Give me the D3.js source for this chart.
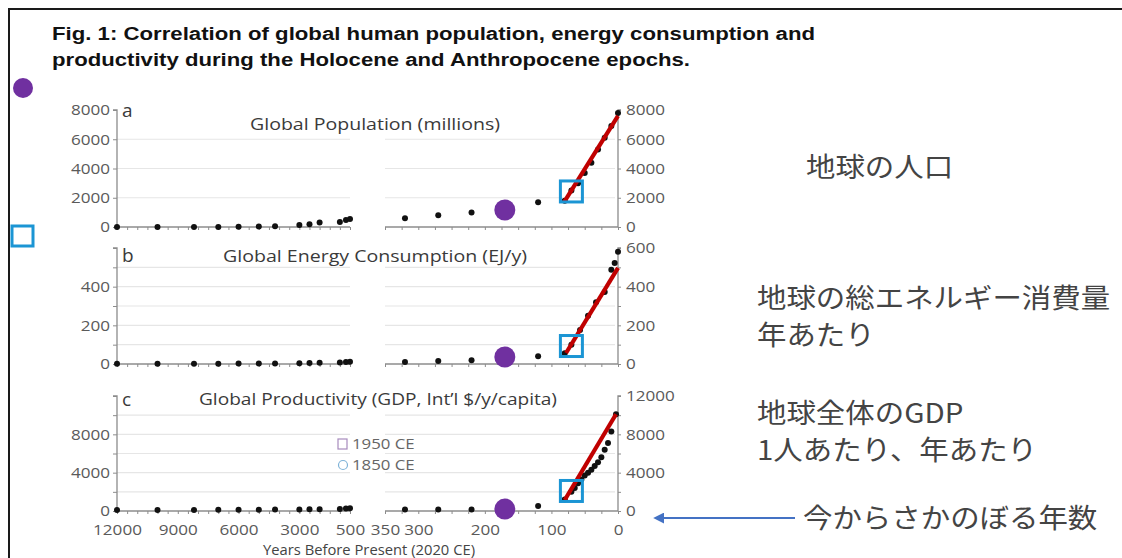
<!DOCTYPE html>
<html>
<head>
<meta charset="utf-8">
<script src="https://cdn.jsdelivr.net/npm/d3@7"></script>
<style>
  html, body { margin: 0; padding: 0; background: #fff; }
  svg { display: block; }
</style>
</head>
<body>
<svg id="fig" width="1122" height="558"></svg>
<script>
// ---- Data -------------------------------------------------------------
// Holocene (years before present, left half of each panel)
const earlyYears   = [12000, 10000, 8200, 7000, 6000, 5000, 4200, 3000, 2500, 2000, 1000, 700, 500];
const earlyPop     = [4, 5, 5, 7, 14, 27, 50, 140, 190, 300, 340, 480, 550];
const earlyEnergy  = [1, 1, 1, 1, 2, 2, 3, 4, 5, 6, 8, 10, 12];
const earlyGdp     = [100, 100, 110, 120, 130, 140, 150, 160, 170, 180, 200, 250, 300];

// Industrial era (years before present, right half of each panel)
const lateYears    = [320, 270, 220, 170, 120, 80];
const latePop      = [600, 800, 1000, 1260, 1700, 1800];
const lateEnergy   = [10, 15, 20, 30, 40, 55];
const lateGdp      = [150, 150, 150, 200, 520, 1200];

// Anthropocene (dense recent series)
const popModernYears    = [70, 60, 50, 40, 30, 20, 10, 0];
const popModern         = [2500, 3000, 3700, 4400, 5300, 6100, 6900, 7800];
const energyModernYears = [70, 57, 45, 33, 20, 10, 5, 0];
const energyModern      = [100, 176, 250, 320, 373, 487, 523, 580];
const gdpModernYears    = [70, 65, 60, 55, 50, 45, 40, 35, 30, 25, 20, 15, 10, 3];
const gdpModern         = [2000, 2400, 2900, 3300, 3700, 4000, 4300, 4700, 5100, 5600, 6400, 7100, 8300, 10100];

// Linear trend since 1950 (start/end years BP and values)
const popTrend    = [[81, 1700], [0, 7600]];
const energyTrend = [[78, 57], [0, 497]];
const gdpTrend    = [[80, 1150], [3, 10100]];

// Highlighted epochs: 1850 CE (170 BP) and 1950 CE (70 BP)
const markYear1850 = 170;
const markYear1950 = 70;
const mark1850 = [1160, 36, 200];
const mark1950 = [2430, 93, 2090];

// Axis ticks
const leftXTicks  = [12000, 9000, 6000, 3000, 500];
const rightXTicks = [350, 300, 200, 100, 0];
const popTicks    = [0, 2000, 4000, 6000, 8000];
const energyTicksLeft  = [0, 200, 400];
const energyTicksRight = [0, 200, 400, 600];
const gdpTicksLeft  = [0, 4000, 8000];
const gdpTicksRight = [0, 4000, 8000, 12000];

const panelTitles = ["Global Population (millions)", "Global Energy Consumption (EJ/y)", "Global Productivity (GDP, Int\u2019l $/y/capita)"];
const panelLetters = ["a", "b", "c"];
const legendLabels = ["1950 CE", "1850 CE"];
const figTitle = [
  "Fig. 1: Correlation of global human population, energy consumption and",
  "productivity during the Holocene and Anthropocene epochs."
];
const jpNotes = [
  ["地球の人口"],
  ["地球の総エネルギー消費量", "年あたり"],
  ["地球全体のGDP", "1人あたり、年あたり"]
];
const jpAxisNote = "今からさかのぼる年数";

// ---- Helpers ----------------------------------------------------------
// widen text horizontally by factor k (keeps glyph height)
function stretch(sel, k) {
  sel.each(function () {
    const len = this.getComputedTextLength();
    if (len > 0) d3.select(this).attr("textLength", len * k).attr("lengthAdjust", "spacingAndGlyphs");
  });
}

// ---- Layout -----------------------------------------------------------
const svg = d3.select("#fig");
const TICK_FONT = "'Open Sans', 'Noto Sans', sans-serif";
const GRID = "#e6e6e6";
const AXIS = "#8c8c8c";
const LABEL = "#5a5a5a";

svg.append("rect").attr("width", 1122).attr("height", 558).attr("fill", "#fff");

// frame
svg.append("path")
  .attr("d", "M9,560 L9,9 L1124,9")
  .attr("fill", "none").attr("stroke", "#1a1a1a").attr("stroke-width", 2);

// figure title
const titleWidths = [763, 638];
svg.append("g").selectAll("text").data(figTitle).join("text")
  .attr("x", 52).attr("y", (d, i) => 40 + i * 26)
  .attr("font-family", "'Liberation Sans', Arial, sans-serif")
  .attr("font-weight", "bold").attr("font-size", 18).attr("fill", "#111")
  .attr("textLength", (d, i) => titleWidths[i]).attr("lengthAdjust", "spacingAndGlyphs")
  .text(d => d);

// Scales
const xL = d3.scaleLinear().domain([12000, 500]).range([117, 350]);
const xR = d3.scaleLinear().domain([350, 0]).range([385, 618]);

const panels = [
  { y: d3.scaleLinear().domain([0, 8000]).range([227, 110]),
    early: earlyPop, late: latePop, mYears: popModernYears, modern: popModern, trend: popTrend,
    gridVals: [2000, 4000, 6000], leftTicks: popTicks, leftMinor: [], rightTicks: popTicks, rightMinor: [],
    titleX: 375, titleY: 130, titleW: 250, letterY: 117 },
  { y: d3.scaleLinear().domain([0, 600]).range([364, 248]),
    early: earlyEnergy, late: lateEnergy, mYears: energyModernYears, modern: energyModern, trend: energyTrend,
    gridVals: [100, 200, 300, 400, 500], leftTicks: energyTicksLeft, leftMinor: [100, 300, 500, 600],
    rightTicks: energyTicksRight, rightMinor: [100, 300, 500],
    titleX: 375, titleY: 262, titleW: 304, letterY: 262 },
  { y: d3.scaleLinear().domain([0, 12000]).range([511, 396]),
    early: earlyGdp, late: lateGdp, mYears: gdpModernYears, modern: gdpModern, trend: gdpTrend,
    gridVals: [2000, 4000, 6000, 8000, 10000], leftTicks: gdpTicksLeft, leftMinor: [2000, 6000, 10000, 12000],
    rightTicks: gdpTicksRight, rightMinor: [2000, 6000, 10000],
    titleX: 378, titleY: 405, titleW: 358, letterY: 406 }
];

const leftMinorX = d3.range(500, 12001, 500);
const rightMinorX = d3.range(0, 351, 25);

panels.forEach((p, i) => {
  const g = svg.append("g");
  const y = p.y;
  const y0 = y(0);

  // gridlines
  g.append("g").selectAll("line").data(p.gridVals).join("line")
    .attr("x1", xL(12000)).attr("x2", xL(500))
    .attr("y1", d => y(d)).attr("y2", d => y(d))
    .attr("stroke", GRID).attr("stroke-width", 1.2);
  g.append("g").selectAll("line").data(p.gridVals).join("line")
    .attr("x1", xR(350)).attr("x2", xR(0) - 3)
    .attr("y1", d => y(d)).attr("y2", d => y(d))
    .attr("stroke", GRID).attr("stroke-width", 1.2);

  // left y axis
  const leftAxis = d3.axisLeft(y).tickValues(p.leftTicks.concat(p.leftMinor)).tickSize(4)
    .tickFormat(d => p.leftTicks.includes(d) ? d : "");
  const gl = g.append("g").attr("transform", `translate(${xL(12000)},0)`).call(leftAxis);
  gl.select(".domain").attr("d", `M-4,${y(y.domain()[1])}H0V${y0}`);

  // right y axis
  const rightAxis = d3.axisRight(y).tickValues(p.rightTicks.concat(p.rightMinor)).tickSize(3)
    .tickFormat(d => p.rightTicks.includes(d) ? d : "");
  const gr = g.append("g").attr("transform", `translate(${xR(0)},0)`).call(rightAxis);
  gr.select(".domain").attr("d", `M3,${y(y.domain()[1])}H0V${y0}`);
  gr.selectAll("text").attr("x", 8);

  // x axes (left & right halves)
  const showLabels = i === 2;
  const axL = d3.axisBottom(xL).tickValues(leftMinorX).tickSize(3)
    .tickFormat(d => showLabels && leftXTicks.includes(d) ? d : "");
  const gxl = g.append("g").attr("transform", `translate(0,${y0})`).call(axL);
  gxl.select(".domain").attr("d", `M${xL(12000)},0H${xL(500)}`);
  const axR = d3.axisBottom(xR).tickValues(rightMinorX).tickSize(3)
    .tickFormat(d => showLabels && rightXTicks.includes(d) ? d : "");
  const gxr = g.append("g").attr("transform", `translate(0,${y0})`).call(axR);
  gxr.select(".domain").attr("d", `M${xR(350)},0H${xR(0)}`);
  [gxl, gxr].forEach(ax => ax.selectAll("text").attr("y", 13));

  g.selectAll(".domain").attr("stroke", AXIS).attr("stroke-width", 1.3);
  g.selectAll(".tick line").attr("stroke", AXIS).attr("stroke-width", 1);
  g.selectAll(".tick text").attr("fill", LABEL).attr("font-size", 15).attr("font-family", TICK_FONT);
  stretch(g.selectAll(".tick text"), 1.14);

  // panel letter + title
  g.append("text").attr("x", 122).attr("y", p.letterY)
    .attr("font-family", TICK_FONT).attr("font-size", 19).attr("fill", "#3a3a3a").text(panelLetters[i]);
  g.append("text").attr("x", p.titleX).attr("y", p.titleY).attr("text-anchor", "middle")
    .attr("font-family", TICK_FONT).attr("font-size", 16).attr("fill", "#3a3a3a")
    .attr("textLength", p.titleW).attr("lengthAdjust", "spacingAndGlyphs")
    .text(panelTitles[i]);

  // data dots
  const dots = [];
  earlyYears.forEach((yr, k) => dots.push([xL(yr), y(p.early[k])]));
  lateYears.forEach((yr, k) => dots.push([xR(yr), y(p.late[k])]));
  p.mYears.forEach((yr, k) => dots.push([xR(yr), y(p.modern[k])]));
  g.append("g").selectAll("circle").data(dots).join("circle")
    .attr("cx", d => d[0]).attr("cy", d => d[1]).attr("r", 3).attr("fill", "#111");

  // trend line
  g.append("path")
    .attr("d", d3.line().x(d => xR(d[0])).y(d => y(d[1]))(p.trend))
    .attr("stroke", "#c00000").attr("stroke-width", 4.2).attr("fill", "none");

  // 1850 CE marker
  g.append("circle").attr("cx", xR(markYear1850)).attr("cy", y(mark1850[i])).attr("r", 10.5)
    .attr("fill", "#7030a0");
  // 1950 CE marker
  g.append("rect")
    .attr("x", xR(markYear1950) - 11).attr("y", y(mark1950[i]) - 10.5)
    .attr("width", 22).attr("height", 21)
    .attr("fill", "none").attr("stroke", "#1b95d4").attr("stroke-width", 3);
});

// legend inside panel c
const lg = svg.append("g").attr("font-family", TICK_FONT).attr("font-size", 15).attr("fill", "#666");
lg.append("rect").attr("x", 338).attr("y", 439).attr("width", 9).attr("height", 10)
  .attr("fill", "none").attr("stroke", "#a78bbd").attr("stroke-width", 1.2);
lg.append("circle").attr("cx", 343).attr("cy", 465).attr("r", 4.5)
  .attr("fill", "none").attr("stroke", "#7fb3d8").attr("stroke-width", 1.2);
lg.selectAll("text").data(legendLabels).join("text")
  .attr("x", 352).attr("y", (d, k) => 449 + k * 21).text(d => d);
stretch(lg.selectAll("text"), 1.12);

// x axis title
svg.append("text").attr("x", 369).attr("y", 555).attr("text-anchor", "middle")
  .attr("font-family", TICK_FONT).attr("font-size", 15).attr("fill", "#444")
  .attr("textLength", 212).attr("lengthAdjust", "spacingAndGlyphs")
  .text("Years Before Present (2020 CE)");

// marker key at left margin
svg.append("circle").attr("cx", 23).attr("cy", 88).attr("r", 10).attr("fill", "#7030a0");
svg.append("rect").attr("x", 12).attr("y", 226).attr("width", 21).attr("height", 20)
  .attr("fill", "none").attr("stroke", "#1b95d4").attr("stroke-width", 3);

// Japanese notes
const jp = svg.append("g").attr("font-family", "'Noto Sans CJK JP', sans-serif")
  .attr("font-size", 27).attr("fill", "#444");
const noteAnchors = [{ x: 806, y: 177 }, { x: 757, y: 308 }, { x: 757, y: 423 }];
jpNotes.forEach((lines, k) => {
  lines.forEach((t, j) => {
    jp.append("text").attr("x", noteAnchors[k].x).attr("y", noteAnchors[k].y + j * 37).text(t);
  });
});
jp.append("text").attr("x", 803).attr("y", 528).text(jpAxisNote);
stretch(jp.selectAll("text"), 1.09);

// arrow pointing at the time axis
const defs = svg.append("defs");
defs.append("marker").attr("id", "arrowHead").attr("viewBox", "0 0 10 10")
  .attr("refX", 2).attr("refY", 5).attr("markerWidth", 5).attr("markerHeight", 5)
  .attr("orient", "auto-start-reverse")
  .append("path").attr("d", "M0,0 L10,5 L0,10 z").attr("fill", "#4472c4");
svg.append("line").attr("x1", 795).attr("y1", 518).attr("x2", 662).attr("y2", 518)
  .attr("stroke", "#4472c4").attr("stroke-width", 2.2).attr("marker-end", "url(#arrowHead)");
</script>
</body>
</html>
